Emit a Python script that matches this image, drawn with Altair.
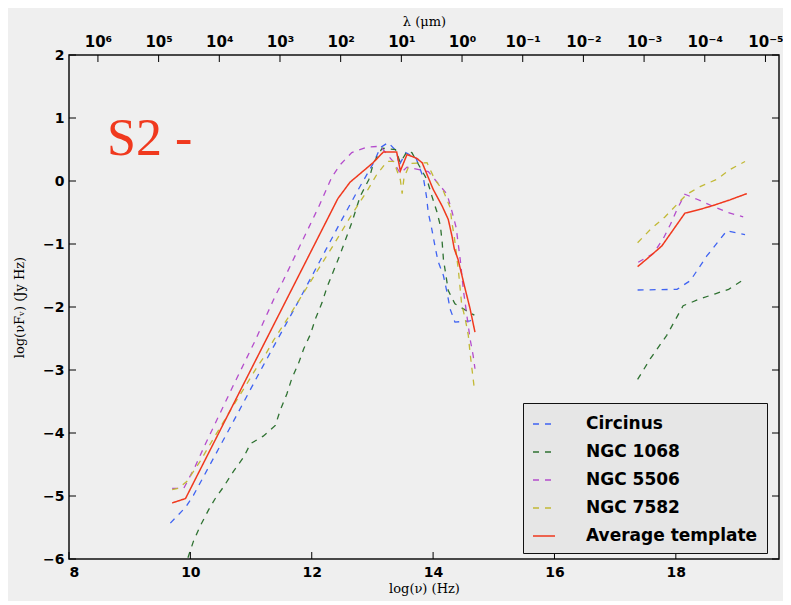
import altair as alt
import pandas as pd

# ---------------- data ----------------
series_names = ["Circinus", "NGC 1068", "NGC 5506", "NGC 7582", "Average template"]
series_colors = ["#3f63f2", "#2f7232", "#b44ccc", "#c2b936", "#f0391e"]

circinus_ir_x = [9.67, 9.92, 10.05, 10.69, 11.20, 11.73, 11.98, 12.47, 12.77, 13.02, 13.13, 13.26,
                 13.40, 13.44, 13.55, 13.72, 13.84, 13.89, 13.92, 13.98, 14.03, 14.08, 14.17, 14.23,
                 14.28, 14.36, 14.61, 14.68]
circinus_ir_y = [-5.43, -5.18, -4.99, -3.85, -2.93, -2.00, -1.55, -0.66, -0.13, 0.29, 0.53, 0.61,
                 0.47, 0.25, 0.45, 0.36, 0.05, -0.24, -0.50, -0.77, -1.03, -1.27, -1.50, -1.77,
                 -2.03, -2.24, -2.22, -2.15]
circinus_xr_x = [17.37, 18.02, 18.24, 18.51, 18.84, 19.14]
circinus_xr_y = [-1.73, -1.72, -1.58, -1.19, -0.79, -0.85]

ngc1068_ir_x = [9.96, 10.05, 10.16, 10.30, 10.41, 10.55, 10.71, 10.88, 10.99, 11.20, 11.40, 11.48,
                11.59, 11.67, 11.78, 11.87, 11.98, 12.06, 12.17, 12.25, 12.47, 12.66, 12.80, 12.94,
                13.02, 13.16, 13.38, 13.46, 13.57, 13.65, 13.90, 13.98, 14.06, 14.12, 14.15, 14.17,
                14.25, 14.36, 14.64, 14.68]
ngc1068_ir_y = [-5.98, -5.72, -5.48, -5.22, -5.04, -4.85, -4.61, -4.38, -4.17, -4.05, -3.88, -3.64,
                -3.38, -3.14, -2.90, -2.66, -2.43, -2.19, -1.93, -1.69, -1.16, -0.66, -0.24, 0.02,
                0.29, 0.52, 0.50, 0.29, 0.47, 0.45, 0.02, -0.24, -0.48, -0.71, -0.98, -1.24,
                -1.74, -1.95, -2.11, -2.13]
ngc1068_xr_x = [17.37, 17.58, 17.85, 18.12, 18.40, 18.65, 18.87, 19.14]
ngc1068_xr_y = [-3.15, -2.82, -2.45, -1.98, -1.87, -1.79, -1.72, -1.55]

ngc5506_ir_x = [9.70, 9.89, 10.08, 10.25, 10.71, 11.07, 11.40, 11.53, 11.86, 12.11, 12.33, 12.47,
                12.66, 12.91, 13.13, 13.35, 13.46, 13.57, 13.92, 14.23, 14.31, 14.38, 14.45, 14.50,
                14.61, 14.66, 14.69]
ngc5506_ir_y = [-4.88, -4.88, -4.53, -4.17, -3.24, -2.53, -1.82, -1.58, -0.92, -0.42, 0.06, 0.26,
                0.45, 0.54, 0.55, 0.30, 0.12, 0.22, 0.15, -0.21, -0.48, -0.74, -1.27, -1.74,
                -2.51, -2.77, -2.98]
ngc5506_xr_x = [17.38, 17.63, 17.80, 17.91, 18.02, 18.15, 18.35, 18.61, 18.86, 19.11]
ngc5506_xr_y = [-1.29, -1.15, -0.90, -0.69, -0.45, -0.21, -0.29, -0.40, -0.50, -0.57]

ngc7582_ir_x = [9.70, 9.80, 9.94, 10.16, 10.38, 10.66, 10.93, 11.10, 11.21, 11.37, 11.65, 11.94,
                12.35, 12.63, 12.93, 13.07, 13.24, 13.35, 13.46, 13.49, 13.52, 13.62, 13.90, 14.03,
                14.17, 14.28, 14.31, 14.35, 14.42, 14.47, 14.53, 14.58, 14.61, 14.64, 14.68]
ngc7582_ir_y = [-4.90, -4.88, -4.77, -4.45, -4.09, -3.64, -3.22, -2.95, -2.80, -2.53, -2.11, -1.66,
                -1.03, -0.58, -0.13, 0.10, 0.31, 0.31, 0.02, -0.20, 0.05, 0.28, 0.29, 0.02,
                -0.16, -0.42, -0.66, -0.89, -1.45, -1.95, -2.19, -2.45, -2.74, -2.98, -3.30]
ngc7582_xr_x = [17.37, 17.58, 17.82, 18.02, 18.18, 18.40, 18.68, 18.89, 19.14]
ngc7582_xr_y = [-0.98, -0.77, -0.57, -0.37, -0.21, -0.09, 0.03, 0.18, 0.31]

average_ir_x = [9.70, 9.92, 11.00, 12.43, 12.63, 13.01, 13.18, 13.40, 13.46, 13.57, 13.73, 13.82,
                14.00, 14.15, 14.25, 14.31, 14.35, 14.41, 14.53, 14.61, 14.69]
average_ir_y = [-5.11, -5.04, -2.99, -0.28, -0.02, 0.29, 0.46, 0.46, 0.16, 0.42, 0.36, 0.29,
                -0.13, -0.40, -0.61, -0.87, -1.08, -1.24, -1.72, -2.03, -2.40]
average_xr_x = [17.37, 17.58, 17.77, 17.96, 18.15, 18.40, 18.61, 18.89, 19.17]
average_xr_y = [-1.36, -1.19, -1.03, -0.77, -0.51, -0.45, -0.39, -0.30, -0.20]

x_ticks = [8, 10, 12, 14, 16, 18]
y_ticks = [-6, -5, -4, -3, -2, -1, 0, 1, 2]
lambda_exponents = [6, 5, 4, 3, 2, 1, 0, -1, -2, -3, -4, -5]
lambda_labels = ["10⁶", "10⁵", "10⁴", "10³", "10²", "10¹", "10⁰",
                 "10⁻¹", "10⁻²", "10⁻³", "10⁻⁴", "10⁻⁵"]
annotation = ["S2 -"]

# ---------------- build tables ----------------
LOG_C_UM = 14.4768  # log10(c in micron/s): log(lambda/um) = LOG_C_UM - log(nu)

groups = [
    ("Circinus", circinus_ir_x, circinus_ir_y, circinus_xr_x, circinus_xr_y),
    ("NGC 1068", ngc1068_ir_x, ngc1068_ir_y, ngc1068_xr_x, ngc1068_xr_y),
    ("NGC 5506", ngc5506_ir_x, ngc5506_ir_y, ngc5506_xr_x, ngc5506_xr_y),
    ("NGC 7582", ngc7582_ir_x, ngc7582_ir_y, ngc7582_xr_x, ngc7582_xr_y),
    ("Average template", average_ir_x, average_ir_y, average_xr_x, average_xr_y),
]
rows = []
for name, ix, iy, xx, xy in groups:
    for seg, xs, ys in (("ir", ix, iy), ("xr", xx, xy)):
        for i, (a, b) in enumerate(zip(xs, ys)):
            rows.append({"series": name, "seg": name + "-" + seg, "lognu": a, "logf": b, "idx": i})
df = pd.DataFrame(rows)
df_dash = df[df.series != "Average template"]
df_avg = df[df.series == "Average template"]

lam_pos = [LOG_C_UM - e for e in lambda_exponents]
df_lam = pd.DataFrame({"lp": lam_pos})
df_xt = pd.DataFrame({"xt": x_ticks})
df_yt = pd.DataFrame({"yt": y_ticks})
df_txt = pd.DataFrame({"t": annotation})

W, H = 710, 504
xscale = alt.Scale(domain=[8, 19.7], nice=False, zero=False)
yscale = alt.Scale(domain=[-6, 2], nice=False, zero=False)

legend = alt.Legend(
    title=None, orient="none", legendX=454, legendY=348,
    fillColor="#e6e6e6", strokeColor="#111111", padding=9,
    labelFont="DejaVu Sans", labelFontSize=17, labelFontWeight="bold", labelColor="black",
    symbolType="stroke", symbolSize=484, symbolStrokeWidth=1.6, rowPadding=8,
    labelOffset=30, labelLimit=400,
)
color_enc = alt.Color("series:N", scale=alt.Scale(domain=series_names, range=series_colors), legend=legend)
dash_enc = alt.StrokeDash("series:N",
                          scale=alt.Scale(domain=series_names, range=[[6, 6]] * 4 + [[1, 0]]),
                          legend=legend)

dashed = alt.Chart(df_dash).mark_line(strokeWidth=1.3, clip=True).encode(
    x=alt.X("lognu:Q", scale=xscale,
            axis=alt.Axis(orient="bottom", values=x_ticks, format="d", title="log(ν) (Hz)",
                          ticks=False, domain=False, grid=False, labelPadding=6, titlePadding=3)),
    y=alt.Y("logf:Q", scale=yscale,
            axis=alt.Axis(values=y_ticks, format="d", title="log(νFᵥ) (Jy Hz)",
                          ticks=False, domain=False, grid=False, labelPadding=5, titlePadding=16)),
    color=color_enc, strokeDash=dash_enc,
    detail="seg:N", order="idx:Q",
)

avg = alt.Chart(df_avg).mark_line(strokeWidth=1.5, clip=True).encode(
    x=alt.X("lognu:Q", scale=xscale, axis=None),
    y=alt.Y("logf:Q", scale=yscale, axis=None),
    color=color_enc, strokeDash=dash_enc,
    detail="seg:N", order="idx:Q",
)

label_expr = "[" + ",".join("'" + s + "'" for s in lambda_labels) + "][round(datum.value - " + str(LOG_C_UM - 6) + ")]"
top_ticks = alt.Chart(df_lam).mark_rule(color="black", strokeWidth=1).encode(
    x=alt.X("lp:Q", scale=xscale,
            axis=alt.Axis(orient="top", values=lam_pos, labelExpr=label_expr, title="λ (μm)",
                          ticks=False, domain=False, grid=False, labelPadding=6, titlePadding=6,
                          labelFontSize=15)),
    y=alt.value(0), y2=alt.value(7),
)
bottom_ticks = alt.Chart(df_xt).mark_rule(color="black", strokeWidth=1).encode(
    x=alt.X("xt:Q", scale=xscale, axis=None),
    y=alt.value(H), y2=alt.value(H - 7),
)
left_ticks = alt.Chart(df_yt).mark_rule(color="black", strokeWidth=1).encode(
    y=alt.Y("yt:Q", scale=yscale, axis=None),
    x=alt.value(0), x2=alt.value(7),
)
right_ticks = alt.Chart(df_yt).mark_rule(color="black", strokeWidth=1).encode(
    y=alt.Y("yt:Q", scale=yscale, axis=None),
    x=alt.value(W - 7), x2=alt.value(W),
)
label = alt.Chart(df_txt).mark_text(
    font="Liberation Serif", fontSize=52, color="#f0391e", align="left", baseline="alphabetic"
).encode(text="t:N", x=alt.value(38), y=alt.value(100))

chart = alt.layer(
    dashed, avg, top_ticks, bottom_ticks, left_ticks, right_ticks, label
).resolve_axis(x="independent", y="independent").properties(
    width=W, height=H,
    autosize=alt.AutoSizeParams(type="none"),
    padding={"left": 61, "top": 47, "right": 4, "bottom": 42},
    background="#efefef",
).configure_view(
    stroke="#111111", strokeWidth=1.5, fill="#efefef"
).configure_axis(
    labelFont="DejaVu Sans", labelFontWeight="bold", labelFontSize=14, labelColor="black",
    titleFont="DejaVu Serif", titleFontSize=13, titleFontWeight="normal", titleColor="black",
)

chart.save("out.html", embed_options={"renderer": "svg", "actions": False})
